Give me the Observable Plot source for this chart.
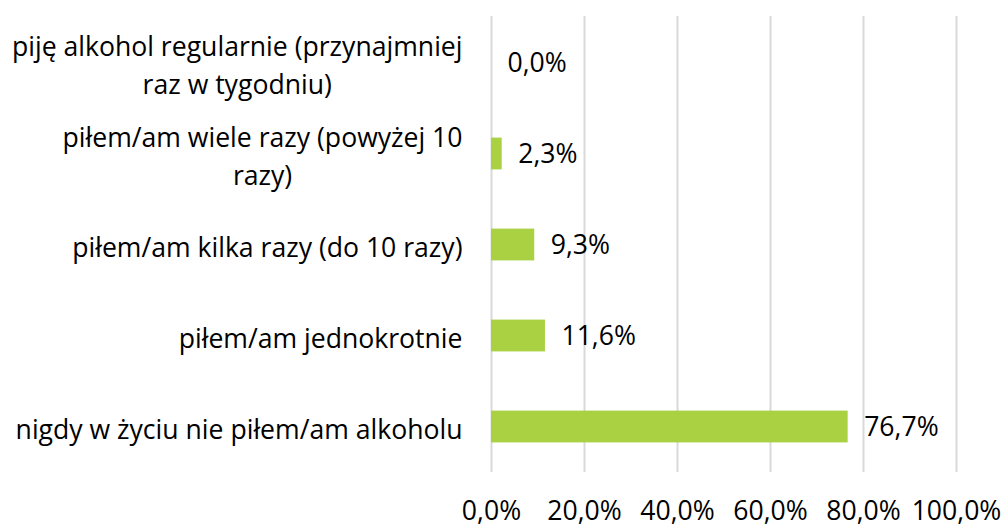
<!DOCTYPE html>
<html><head><meta charset="utf-8">
<script src="https://cdn.jsdelivr.net/npm/d3@7"></script>
<script src="https://cdn.jsdelivr.net/npm/@observablehq/plot@0.6"></script>
<style>body{margin:0;background:#fff} #chart{font-family:"Open Sans"}</style>
</head><body><div id="chart"></div>
<script>
const categories = [
  "piję alkohol regularnie (przynajmniej raz w tygodniu)",
  "piłem/am wiele razy (powyżej 10 razy)",
  "piłem/am kilka razy (do 10 razy)",
  "piłem/am jednokrotnie",
  "nigdy w życiu nie piłem/am alkoholu"
];
const values = [0.0, 2.3, 9.3, 11.6, 76.7];
const xTicks = [0, 20, 40, 60, 80, 100];

const FONT_SIZE = 26.6;
const ctx = document.createElement("canvas").getContext("2d");
ctx.font = FONT_SIZE + 'px "Open Sans"';
function wrap(s, max) {
  const words = s.split(" "); const lines = []; let line = "";
  for (const w of words) {
    const t = line ? line + " " + w : w;
    if (ctx.measureText(t).width > max && line) { lines.push(line); line = w; } else line = t;
  }
  lines.push(line);
  return lines.join("\n");
}
const fmt = v => v.toFixed(1).replace(".", ",") + "%";
const data = categories.map((c, i) => ({category: c, value: values[i]}));

const plot = Plot.plot({
  width: 1008, height: 526,
  marginLeft: 491, marginRight: 52, marginTop: 16, marginBottom: 54,
  style: {fontFamily: "Open Sans", fontSize: FONT_SIZE + "px", color: "#000", background: "#fff"},
  x: {domain: [0, 100]},
  y: {domain: categories, padding: 0},
  marks: [
    Plot.ruleX(xTicks, {stroke: "#d9d9d9", strokeWidth: 2}),
    Plot.barX(data, {x: "value", y: "category", fill: "#a9d142", insetTop: 29.6, insetBottom: 29.6}),
    Plot.text(data, {x: "value", y: "category", text: d => fmt(d.value), textAnchor: "start", dx: 16, fill: "#000"}),
    Plot.axisX(xTicks, {tickSize: 0, tickPadding: 29, tickFormat: fmt, fill: "#000", label: null}),
    Plot.axisY({tickSize: 0, tickPadding: 29, tickFormat: d => wrap(d, 462), lineHeight: 1.4, fill: "#000", label: null})
  ]
});
document.getElementById("chart").appendChild(plot);
// center each wrapped line within its right-aligned label block
plot.querySelectorAll('g[aria-label="y-axis tick label"] text').forEach(t => {
  const w = t.getBBox().width;
  t.setAttribute("text-anchor", "middle");
  t.setAttribute("transform", (t.getAttribute("transform") || "") + ` translate(${-w / 2},0)`);
});
</script>
</body></html>
